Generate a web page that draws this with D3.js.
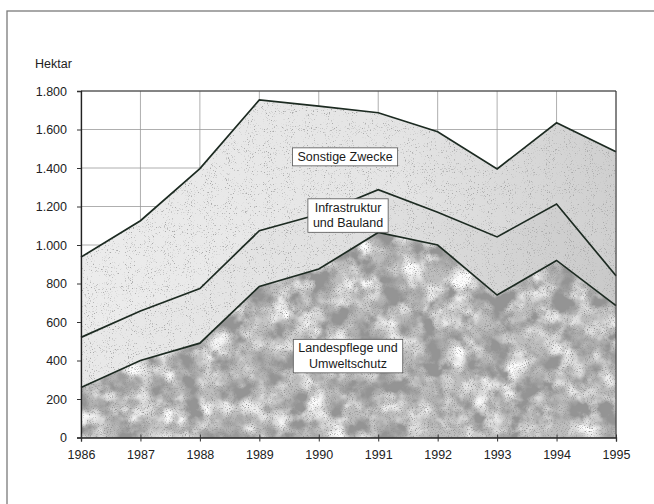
<!DOCTYPE html>
<html><head><meta charset="utf-8">
<script src="https://cdn.jsdelivr.net/npm/d3@7"></script>
<style>
html,body{margin:0;padding:0;background:#fff;}
svg{display:block;font-family:"Liberation Sans",Arial,sans-serif;}
</style></head>
<body><svg id="c" width="654" height="504"></svg>
<script>
const years = [1986,1987,1988,1989,1990,1991,1992,1993,1994,1995];
const landespflege = [260,400,490,785,875,1065,1000,740,920,685];
const infrastruktur = [260,257,284,289,285,222,170,302,293,155];
const sonstige = [417,469,623,680,561,400,418,353,422,644];
const yTicks = [0,200,400,600,800,1000,1200,1400,1600,1800];
const seriesKeys = ["landespflege","infrastruktur","sonstige"];
const seriesLabels = {
  landespflege:["Landespflege und","Umweltschutz"],
  infrastruktur:["Infrastruktur","und Bauland"],
  sonstige:["Sonstige Zwecke"]
};
const labelValue = {landespflege:425, infrastruktur:1155, sonstige:1460};
const yUnit = "Hektar";

const svg = d3.select("#c");
const x = d3.scaleLinear().domain([1986,1995]).range([81,616]);
const y = d3.scaleLinear().domain([0,1800]).range([437.5,91]);
const de = d3.formatLocale({decimal:",",thousands:".",grouping:[3],currency:["","€"]});
const fmt = de.format(",d");

const table = years.map((yr,i)=>({year:yr,landespflege:landespflege[i],infrastruktur:infrastruktur[i],sonstige:sonstige[i]}));
const stack = d3.stack().keys(seriesKeys)(table);

const defs = svg.append("defs");
function grainFilter(id, freq, seed, a, b, col){
  const f = defs.append("filter").attr("id",id).attr("x",0).attr("y",0).attr("width","100%").attr("height","100%");
  f.append("feTurbulence").attr("type","fractalNoise").attr("baseFrequency",freq).attr("numOctaves",2).attr("seed",seed).attr("result","n");
  f.append("feColorMatrix").attr("in","n").attr("type","matrix")
    .attr("values",`0 0 0 0 ${col} 0 0 0 0 ${col} 0 0 0 0 ${col} ${a} 0 0 0 ${b}`).attr("result","g");
  f.append("feComposite").attr("in","g").attr("in2","SourceGraphic").attr("operator","in").attr("result","s");
  const m=f.append("feMerge"); m.append("feMergeNode").attr("in","SourceGraphic"); m.append("feMergeNode").attr("in","s");
}
grainFilter("grainLight",0.95,4,6,-3.7,0.4);
{
  const f = defs.append("filter").attr("id","mottle").attr("x",0).attr("y",0).attr("width","100%").attr("height","100%");
  f.append("feTurbulence").attr("type","fractalNoise").attr("baseFrequency",0.045).attr("numOctaves",4).attr("seed",7).attr("result","n1");
  f.append("feColorMatrix").attr("in","n1").attr("type","matrix")
    .attr("values","0 0 0 0 0.3 0 0 0 0 0.3 0 0 0 0 0.3 3.2 0 0 0 -1.2").attr("result","b1");
  f.append("feTurbulence").attr("type","fractalNoise").attr("baseFrequency",0.04).attr("numOctaves",3).attr("seed",19).attr("result","n2");
  f.append("feColorMatrix").attr("in","n2").attr("type","matrix")
    .attr("values","0 0 0 0 0.97 0 0 0 0 0.97 0 0 0 0 0.97 3 0 0 0 -1.2").attr("result","b2");
  f.append("feTurbulence").attr("type","fractalNoise").attr("baseFrequency",0.95).attr("numOctaves",2).attr("seed",3).attr("result","n3");
  f.append("feColorMatrix").attr("in","n3").attr("type","matrix")
    .attr("values","0 0 0 0 0.3 0 0 0 0 0.3 0 0 0 0 0.3 4 0 0 0 -2.2").attr("result","b3");
  const m=f.append("feMerge");
  m.append("feMergeNode").attr("in","SourceGraphic");
  m.append("feMergeNode").attr("in","b2");
  m.append("feMergeNode").attr("in","b1");
  m.append("feMergeNode").attr("in","b3");
  f.append("feComposite").attr("in2","SourceGraphic").attr("operator","in");
}
const gTop = defs.append("linearGradient").attr("id","gTop").attr("gradientUnits","userSpaceOnUse")
  .attr("x1",81).attr("x2",616).attr("y1",0).attr("y2",0);
gTop.append("stop").attr("offset","0").attr("stop-color","#ececec");
gTop.append("stop").attr("offset","0.6").attr("stop-color","#e4e4e4");
gTop.append("stop").attr("offset","1").attr("stop-color","#cfcfcf");
const gMid = defs.append("linearGradient").attr("id","gMid").attr("gradientUnits","userSpaceOnUse")
  .attr("x1",81).attr("x2",616).attr("y1",0).attr("y2",0);
gMid.append("stop").attr("offset","0").attr("stop-color","#e9e9e9");
gMid.append("stop").attr("offset","0.6").attr("stop-color","#dedede");
gMid.append("stop").attr("offset","1").attr("stop-color","#c9c9c9");

// outer frame
svg.append("rect").attr("x",7).attr("y",11).attr("width",660).attr("height",510)
  .attr("fill","none").attr("stroke","#7a7a7a").attr("stroke-width",1.3);

// gridlines
const grid = svg.append("g").attr("stroke","#9a9a9a").attr("stroke-width",0.8);
grid.selectAll(".h").data(yTicks).join("line")
  .attr("x1",x(1986)).attr("x2",x(1995)).attr("y1",d=>y(d)).attr("y2",d=>y(d));
grid.selectAll(".v").data(years).join("line")
  .attr("x1",d=>x(d)).attr("x2",d=>x(d)).attr("y1",y(0)).attr("y2",y(1800));

// areas
const area = d3.area().x(d=>x(d.data.year)).y0(d=>y(d[0])).y1(d=>y(d[1]));
const fills = {landespflege:"#bdbdbd", infrastruktur:"url(#gMid)", sonstige:"url(#gTop)"};
const filters = {landespflege:"url(#mottle)", infrastruktur:"url(#grainLight)", sonstige:"url(#grainLight)"};
svg.append("g").selectAll("path").data(stack).join("path")
  .attr("d",area).attr("fill",d=>fills[d.key]).attr("filter",d=>filters[d.key]);

// top lines
const line = d3.line().x(d=>x(d.data.year)).y(d=>y(d[1]));
svg.append("g").selectAll("path").data(stack).join("path")
  .attr("d",line).attr("fill","none").attr("stroke","#1c2a21").attr("stroke-width",1.7).attr("stroke-linejoin","miter");

// plot border (top & right)
svg.append("path").attr("d",`M${x(1986)},${y(1800)}H${x(1995)}V${y(0)}`)
  .attr("fill","none").attr("stroke","#333").attr("stroke-width",1);

// axes
const ax = svg.append("g").attr("transform",`translate(${x(1986)},0)`)
  .call(d3.axisLeft(y).tickValues(yTicks).tickFormat(fmt).tickSize(4).tickPadding(10));
const bx = svg.append("g").attr("transform",`translate(0,${y(0)})`)
  .call(d3.axisBottom(x).tickValues(years).tickFormat(d3.format("d")).tickSize(4).tickPadding(9));
bx.selectAll(".tick line").attr("y1",-3);
[ax,bx].forEach(g=>{
  g.select(".domain").attr("stroke","#222").attr("stroke-width",1.3);
  g.selectAll(".tick line").attr("stroke","#333");
  g.selectAll("text").attr("font-size",12.5).attr("fill","#222").attr("font-family","Liberation Sans, Arial, sans-serif");
});

svg.append("text").attr("x",35).attr("y",68).attr("font-size",12.5).attr("fill","#222").text(yUnit);

// labels
const lblX = {landespflege:348, infrastruktur:348, sonstige:345};
seriesKeys.forEach(k=>{
  const lines = seriesLabels[k];
  const cx = lblX[k];
  const cy = y(labelValue[k]);
  const g = svg.append("g");
  const t = g.append("text").attr("text-anchor","middle").attr("font-size",12.5).attr("fill","#1a1a1a");
  lines.forEach((l,i)=>{
    t.append("tspan").attr("x",cx).attr("y",cy + (i-(lines.length-1)/2)*15.5 + 4.4).text(l);
  });
  const bb = t.node().getBBox();
  g.insert("rect","text").attr("x",bb.x-5).attr("y",bb.y-2).attr("width",bb.width+10).attr("height",bb.height+4)
    .attr("fill","#fff").attr("stroke","#555").attr("stroke-width",0.8);
});
</script></body></html>
